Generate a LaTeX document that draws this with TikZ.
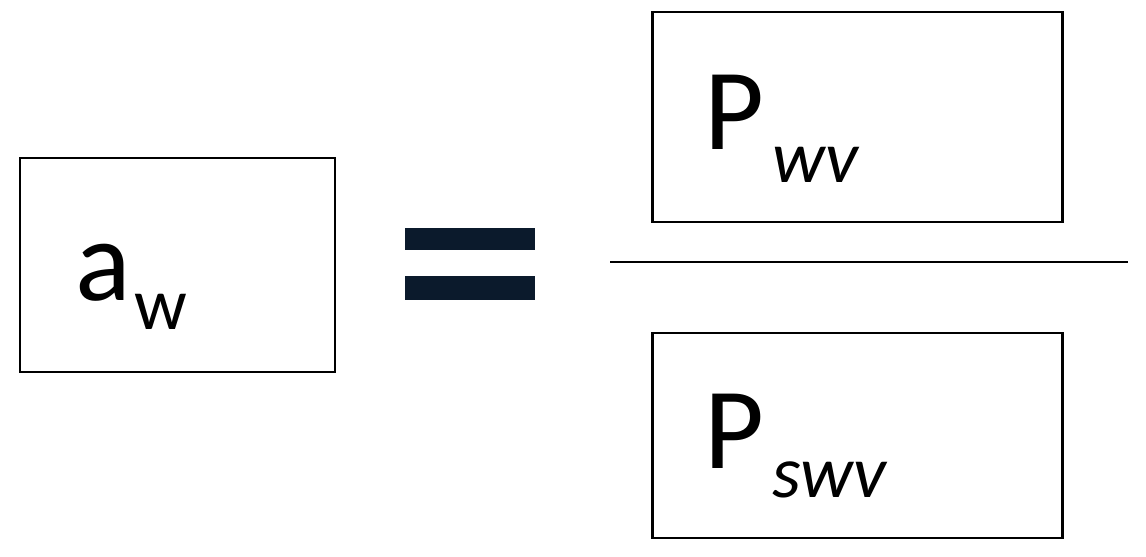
\documentclass[tikz,border=0pt]{standalone}
\usepackage{fontspec}
\setmainfont{Carlito}
\definecolor{eqnavy}{HTML}{0B1A2C}
\tikzset{
  termbox/.style={shape=rectangle,draw=black,line width=1.7pt,inner sep=0pt},
  termtext/.style={anchor=base west,inner sep=0pt,font=\fontsize{66}{70}\selectfont},
  subtext/.style={anchor=base west,inner sep=0pt,font=\fontsize{42}{46}\selectfont}
}
\begin{document}
\begin{tikzpicture}[x=0.02cm,y=-0.02cm]
\useasboundingbox (0,0) rectangle (1146,557);
\node[termbox,minimum width=315*0.02cm,minimum height=214*0.02cm] (aw) at (177.5,265) {};
\node[termbox,minimum width=410*0.02cm,minimum height=210*0.02cm] (pwv) at (857,117) {};
\node[termbox,minimum width=410*0.02cm,minimum height=205*0.02cm] (pswv) at (857,435.5) {};
\node[termtext] (a) at (75,300) {a};
\node[subtext] (w) at (a.base east) [yshift=-0.6cm,xshift=0.05cm] {w};
\node[termtext] (p1) at (704,150) {P};
\node[subtext] (wv) at (p1.base east) [yshift=-0.65cm,xshift=0.15cm] {\itshape wv};
\node[termtext] (p2) at (704,468) {P};
\node[subtext] (swv) at (p2.base east) [yshift=-0.6cm,xshift=0.15cm] {\itshape swv};
\coordinate (fracl) at (610,262);
\coordinate (fracr) at (1128,262);
\draw[line width=1.7pt] (fracl) -- (fracr);
% equals sign
\fill[eqnavy] (405,228) rectangle (535,250);
\fill[eqnavy] (405,276) rectangle (535,300);
\end{tikzpicture}
\end{document}
